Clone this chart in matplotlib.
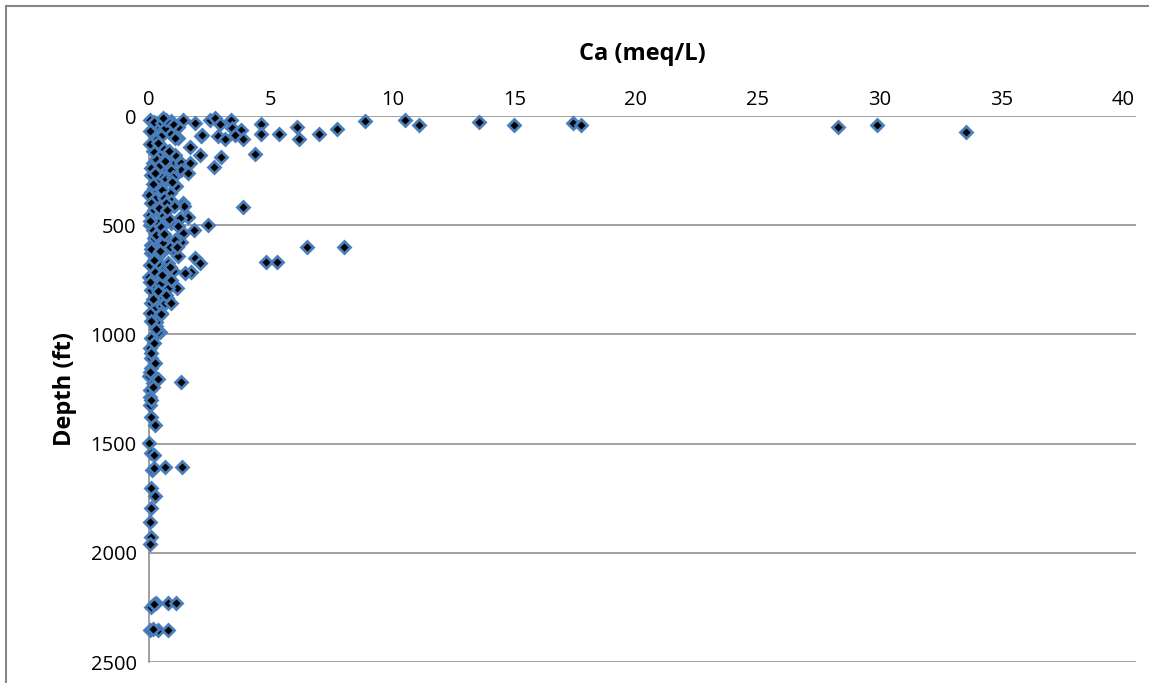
import matplotlib
matplotlib.use("Agg")
import matplotlib.pyplot as plt
from matplotlib.patches import Rectangle

plt.rcParams['font.family'] = ['Open Sans', 'DejaVu Sans']

ca = [
    0.03, 0.37, 0.9, 1.4, 1.89, 1.19, 0.04, 0.86, 1.19, 2.14, 2.5, 2.7, 2.9, 3.37, 3.4, 3.78,
    2.83, 3.12, 3.53, 3.86, 4.6, 4.6, 5.34, 6.08, 6.16, 6.98, 7.72, 8.87, 10.5, 11.09, 13.55,
    15.0, 17.4, 17.75, 28.3, 29.9, 33.55,
    0.2, 0.55, 0.65, 1.0, 0.5, 0.3, 0.7, 0.57, 1.07, 2.18,
    0.37, 0.16, 0.57, 0.99, 1.3, 1.3, 1.68, 1.6, 0.9, 0.45, 0.08, 0.49, 0.08, 0.86, 0.0, 1.4,
    1.68, 2.1, 2.96, 4.35, 2.67,
    0.2, 0.6, 0.3, 0.7, 0.1, 0.3, 0.7, 1.0, 0.2, 0.55, 1.1, 0.25, 0.6, 0.9, 0.1, 0.15, 0.45,
    1.05, 0.8,
    1.44, 1.6, 1.85, 1.4, 1.03, 0.7, 1.27, 0.9, 1.31, 0.99, 1.89, 2.1, 1.72, 1.48, 1.15, 0.74,
    0.04, 0.04, 0.37, 0.29, 0.66, 0.08, 0.57, 1.07, 0.08, 0.49, 0.04, 0.37, 0.78, 0.0, 0.57,
    0.25, 0.08, 0.37, 0.08, 0.78, 3.86, 2.42, 6.5, 8.0, 4.8, 5.27,
    0.2, 0.5, 0.8, 0.15, 0.5, 1.2, 0.2, 0.85, 0.3, 1.2, 0.6, 1.0, 0.15, 0.45, 0.9, 0.25, 0.55,
    0.15, 0.3,
    0.04, 0.29, 0.45, 0.08, 0.04, 0.08, 0.08, 0.0, 0.16, 0.37, 1.31, 0.04, 0.04, 0.04, 0.66,
    0.9, 0.49, 0.37,
    0.08, 0.25, 0.0, 0.08, 0.12, 0.66, 1.36, 0.08, 0.25, 0.08, 0.04, 0.08, 0.04, 0.2, 0.2,
    0.08, 0.29, 0.78, 1.1, 0.04, 0.37, 0.78, 0.2, 0.15,
    0.05, 0.35, 0.65, 0.25, 0.95, 0.15, 0.4, 0.75, 0.05, 0.3, 0.6, 1.15, 0.1, 0.45, 0.85,
    0.2, 0.55, 0.05, 0.35, 0.7, 0.15, 0.5, 0.1, 0.3, 0.2, 0.1, 0.25, 0.05, 0.15, 0.1,
]
depth = [
    18, 41, 23, 18, 32, 50, 69, 78, 101, 92, 18, 9, 37, 18, 55, 64,
    92, 105, 87, 105, 37, 82, 82, 50, 105, 82, 60, 23, 18, 41, 27,
    41, 32, 41, 50, 41, 73,
    25, 30, 55, 35, 90, 110, 20, 9, 101, 87,
    179, 215, 238, 211, 215, 247, 215, 261, 247, 270, 270, 316, 348, 352, 362, 398,
    142, 179, 188, 174, 233,
    140, 150, 195, 190, 240, 300, 290, 280, 330, 340, 320, 380, 375, 390, 400, 160, 225,
    180, 160,
    412, 462, 522, 536, 412, 398, 467, 490, 577, 614, 650, 673, 714, 719, 788, 833,
    453, 499, 490, 536, 554, 591, 582, 568, 627, 627, 682, 673, 673, 737, 751,
    714, 797, 829, 856, 788, 417, 499, 600, 600, 670, 670,
    430, 445, 470, 520, 510, 505, 560, 600, 650, 640, 700, 710, 770, 770, 750, 880, 870,
    920, 960,
    902, 943, 989, 1017, 1062, 1108, 1154, 1190, 1222, 1204, 1218, 1255, 1287, 1323, 856,
    856, 902, 989,
    1378, 1415, 1497, 1543, 1621, 1607, 1607, 1703, 1740, 1795, 1859, 1928, 1960, 1550, 1610,
    2248, 2230, 2230, 2230, 2353, 2353, 2353, 2235, 2350,
    130, 125, 205, 260, 300, 310, 420, 430, 480, 545, 540, 600, 610, 620, 690,
    660, 730, 760, 800, 820, 840, 905, 940, 975, 1040, 1085, 1130, 1170, 1240, 1300,
]

x_ticks = [0, 5, 10, 15, 20, 25, 30, 35, 40]
y_ticks = [0, 500, 1000, 1500, 2000, 2500]

fig = plt.figure(figsize=(11.49, 6.83), dpi=100)
ax = fig.add_axes([0.1297, 0.0307, 0.8593, 0.7994])

ax.plot(ca, depth, linestyle='none', marker='D', markersize=5.8,
        markerfacecolor='black', markeredgecolor='#4A7EBB', markeredgewidth=2.0,
        zorder=3, clip_on=False)

ax.set_xlim(0, 40.55)
ax.set_ylim(2500, 0)
ax.set_xticks(x_ticks)
ax.set_yticks(y_ticks)
ax.xaxis.tick_top()
ax.xaxis.set_label_position('top')
ax.tick_params(axis='both', length=0, labelsize=14.5, colors='#000000')
ax.tick_params(axis='x', pad=4)
ax.tick_params(axis='y', pad=9)
ax.grid(axis='y', color='#868686', linewidth=1.1)
ax.set_axisbelow(True)
for s in ['right', 'bottom', 'top']:
    ax.spines[s].set_visible(False)
ax.spines['left'].set_color('#868686')
ax.spines['left'].set_linewidth(1.1)

ax.set_xlabel('Ca (meq/L)', fontsize=17, fontweight='bold', labelpad=22)
ax.set_ylabel('Depth (ft)', fontsize=17, fontweight='bold', labelpad=10)

fig.patches.append(Rectangle((6 / 1149, -0.1), 1.2, (683 - 6) / 683 + 0.1,
                             transform=fig.transFigure, fill=False,
                             edgecolor='#868686', linewidth=1.5))

fig.savefig('out.png', dpi=100)
